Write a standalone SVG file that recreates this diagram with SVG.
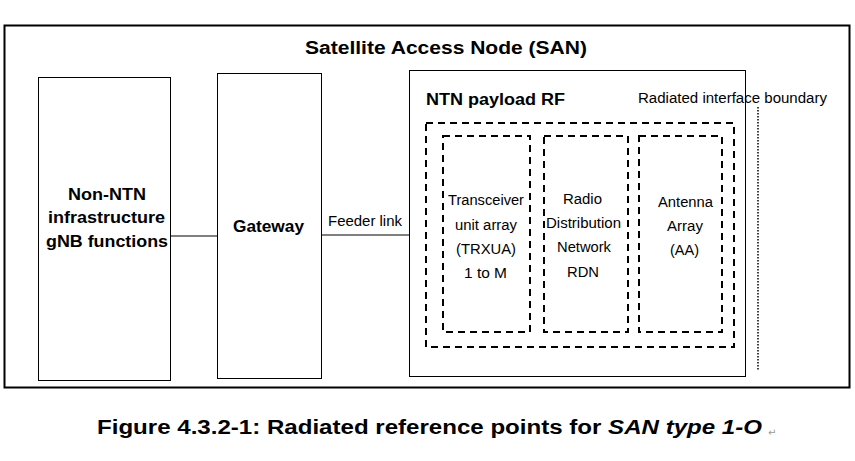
<svg xmlns="http://www.w3.org/2000/svg" width="855" height="461" viewBox="0 0 855 461">
<style>
.box{fill:#fff;stroke:#000;stroke-width:1}
.dash{fill:none;stroke:#000;stroke-width:2;stroke-dasharray:7,5}
.line{stroke:#000;stroke-width:1;fill:none}
.b{font-family:"Liberation Sans",Arial,sans-serif;font-weight:bold;fill:#000}
.n{font-family:"Liberation Sans",Arial,sans-serif;fill:#000;font-size:14px}
.m{text-anchor:middle}
</style>
<rect width="855" height="461" fill="#fff"/>
<g id="san">
<rect x="4.5" y="25.5" width="845" height="362" fill="#fff" stroke="#000" stroke-width="2"/>
<text class="b m" x="446" y="54" font-size="18" textLength="282" lengthAdjust="spacingAndGlyphs">Satellite Access Node (SAN)</text>
</g>
<g id="connectors">
<line class="line" x1="170" y1="236" x2="217" y2="236"/>
<line class="line" x1="321" y1="235" x2="409" y2="235"/>
<text class="n" x="328" y="226" textLength="74" lengthAdjust="spacingAndGlyphs">Feeder link</text>
</g>
<g id="non-ntn">
<rect class="box" x="38.5" y="77.5" width="132" height="303"/>
<text class="b" font-size="16" x="68" y="200" textLength="78" lengthAdjust="spacingAndGlyphs">Non-NTN</text>
<text class="b" font-size="16" x="48" y="223" textLength="117" lengthAdjust="spacingAndGlyphs">infrastructure</text>
<text class="b" font-size="16" x="46" y="247" textLength="122" lengthAdjust="spacingAndGlyphs">gNB functions</text>
</g>
<g id="gateway">
<rect class="box" x="217.5" y="73.5" width="104" height="305"/>
<text class="b" font-size="16" x="233" y="232" textLength="71" lengthAdjust="spacingAndGlyphs">Gateway</text>
</g>
<g id="ntn-payload">
<rect class="box" x="409.5" y="70.5" width="336" height="306"/>
<text class="b" font-size="16" x="426" y="105" textLength="139" lengthAdjust="spacingAndGlyphs">NTN payload RF</text>
<rect class="dash" x="426" y="123" width="308" height="224"/>
</g>
<g id="boundary">
<line x1="758" y1="107" x2="758" y2="370" stroke="#000" stroke-width="1.5" stroke-dasharray="1.5,1.5"/>
<text class="n" x="638" y="103" textLength="189" lengthAdjust="spacingAndGlyphs">Radiated interface boundary</text>
</g>
<g id="trxua">
<rect class="dash" x="443" y="136" width="87" height="196"/>
<text class="n" x="448" y="205" textLength="76" lengthAdjust="spacingAndGlyphs">Transceiver</text>
<text class="n" x="455" y="230" textLength="62" lengthAdjust="spacingAndGlyphs">unit array</text>
<text class="n" x="456" y="254" textLength="60" lengthAdjust="spacingAndGlyphs">(TRXUA)</text>
<text class="n" x="464" y="278" textLength="43" lengthAdjust="spacingAndGlyphs">1 to M</text>
</g>
<g id="rdn">
<rect class="dash" x="544" y="136" width="84" height="196"/>
<text class="n" x="563" y="204" textLength="39" lengthAdjust="spacingAndGlyphs">Radio</text>
<text class="n" x="546" y="228" textLength="75" lengthAdjust="spacingAndGlyphs">Distribution</text>
<text class="n" x="557" y="252" textLength="54" lengthAdjust="spacingAndGlyphs">Network</text>
<text class="n" x="567" y="277" textLength="32" lengthAdjust="spacingAndGlyphs">RDN</text>
</g>
<g id="aa">
<rect class="dash" x="639" y="136" width="83" height="196"/>
<text class="n" x="658" y="207" textLength="55" lengthAdjust="spacingAndGlyphs">Antenna</text>
<text class="n" x="667" y="231" textLength="36" lengthAdjust="spacingAndGlyphs">Array</text>
<text class="n" x="670" y="255" textLength="29" lengthAdjust="spacingAndGlyphs">(AA)</text>
</g>
<g id="caption">
<text class="b" font-size="20" x="97" y="434" textLength="665" lengthAdjust="spacingAndGlyphs">Figure 4.3.2-1: Radiated reference points for <tspan font-style="italic">SAN type 1-O</tspan></text>
<text x="768" y="436" font-family="DejaVu Sans,sans-serif" font-size="10" fill="#999">↵</text>
</g>
</svg>
